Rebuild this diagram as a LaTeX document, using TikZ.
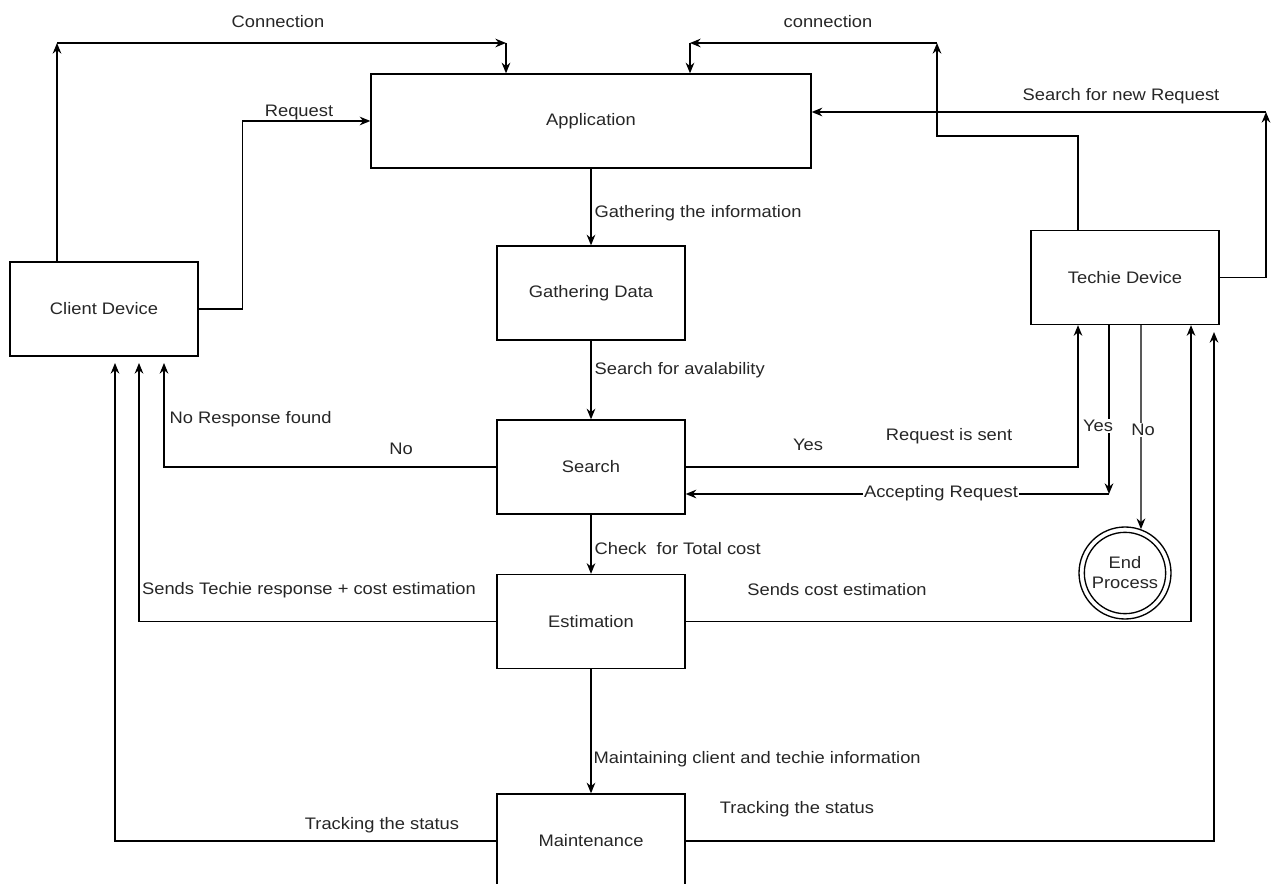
\documentclass[tikz,border=0pt]{standalone}
\usepackage{fontspec}
\setmainfont[FakeStretch=1.1]{Liberation Sans}
\usetikzlibrary{arrows.meta}
\begin{document}
\begin{tikzpicture}[x=0.75pt,y=-0.75pt,
  font=\fontsize{12.5}{14.5}\selectfont,
  every node/.style={text=black!85},
  blk/.style={draw, line width=1pt, minimum width=141pt, minimum height=70.5pt, inner sep=0pt},
  arr/.style={line width=1pt, -{Stealth[length=8pt,width=6.5pt]}},
  ln/.style={line width=1pt},
  lbl/.style={inner sep=1pt},
  onl/.style={fill=white, inner sep=1pt}]
\useasboundingbox (0,0) rectangle (1271,884);
\clip (0,0) rectangle (1271,884);

% nodes
\node[blk, minimum width=330pt] (app) at (591,121) {Application};
\node[blk] (gather) at (591,293) {Gathering Data};
\node[blk] (search) at (591,467) {Search};
\node[blk] (est) at (591,621.5) {Estimation};
\node[blk] (maint) at (591,841) {Maintenance};
\node[blk] (client) at (104,309) {Client Device};
\node[blk] (techie) at (1125,277.5) {Techie Device};
\node[circle, draw, line width=1pt, minimum size=69pt, inner sep=0pt] (endp) at (1125,573) {};
\draw[line width=1pt] (endp.center) circle (30.5pt);
\node[align=center, font=\fontsize{12.5}{15}\selectfont] (endtxt) at (1125,573) {End\\Process};

% helper coordinates
\coordinate (c1) at (57,43);
\coordinate (c2) at (506,43);
\coordinate (c3) at (690,43);
\coordinate (c4) at (937,43);
\coordinate (c5) at (937,136);
\coordinate (c6) at (1266,112);
\coordinate (t1) at (1078,0);
\coordinate (a1) at (1109,0);
\coordinate (a2) at (1109,494);
\coordinate (n1) at (1141,0);
\coordinate (e1) at (1191,0);
\coordinate (m1) at (1214,332);
\coordinate (cl1) at (115,363);
\coordinate (cl2) at (139,363);
\coordinate (cl3) at (164,363);

% top connections
\draw[arr] (client.north -| c1) -- (c1);
\draw[arr] (c1) -- (c2);
\draw[arr] (c2) -- (app.north -| c2);
\draw[arr] (techie.north -| t1) |- (c5) -- (c4);
\draw[arr] (c4) -- (c3);
\draw[arr] (c3) -- (app.north -| c3);
\draw[arr] (client.east) -- ++(44,0) |- (app.west);
\draw[arr] (techie.east) -| (c6);
\draw[arr] (c6) -- (app.east |- c6);

% central chain
\draw[arr] (app.south) -- (gather.north);
\draw[arr] (gather.south) -- (search.north);
\draw[arr] (search.south) -- (est.north);
\draw[arr] (est.south) -- (maint.north);

% back to client
\draw[arr] (search.west) -| (cl3);
\draw[arr] (est.west) -| (cl2);
\draw[arr] (maint.west) -| (cl1);

% techie side
\draw[arr] (search.east) -| (techie.south -| t1);
\draw[arr] (techie.south -| a1) -- (a2);
\draw[arr] (a2) -- (search.east |- a2);
\draw[arr] (techie.south -| n1) -- (endp.70);
\draw[arr] (est.east) -| (techie.south -| e1);
\draw[arr] (maint.east) -| (m1);

% labels
\node[lbl] (l1) at (278,22) {Connection};
\node[lbl] (l2) at (828,22) {connection};
\node[lbl] (l3) at (299,112) {Request};
\node[lbl] (l4) at (1121,96) {Search for new Request};
\node[lbl, anchor=west] (l5) at (593,213) {Gathering the information};
\node[lbl, anchor=west] (l6) at (593,370) {Search for avalability};
\node[lbl, anchor=west] (l7) at (168,419) {No Response found};
\node[lbl] (l8) at (401,449) {No};
\node[lbl] (l9) at (808,445) {Yes};
\node[lbl] (l10) at (949,436) {Request is sent};
\node[onl] (l11) at (941,493) {Accepting Request};
\node[onl] (l12) at (1098,426) {Yes};
\node[onl] (l13) at (1143,430) {No};
\node[lbl, anchor=west] (l14) at (593,549) {Check\ \ for Total cost};
\node[lbl] (l15) at (309,590) {Sends Techie response + cost estimation};
\node[lbl] (l16) at (837,590) {Sends cost estimation};
\node[lbl, anchor=west] (l17) at (592,759) {Maintaining client and techie information};
\node[lbl] (l18) at (382,825) {Tracking the status};
\node[lbl] (l19) at (797,809) {Tracking the status};
\end{tikzpicture}
\end{document}
